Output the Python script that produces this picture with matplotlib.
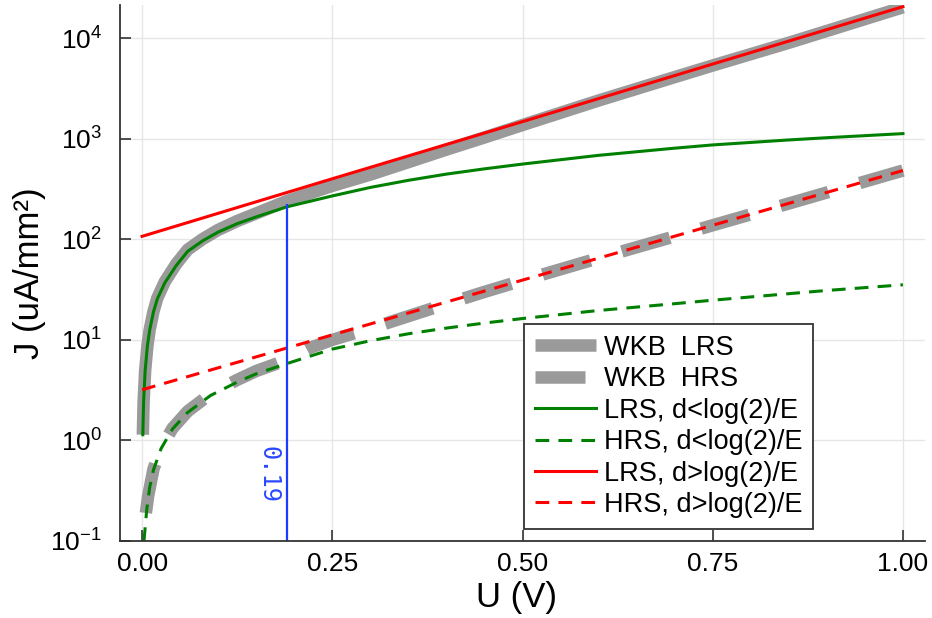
import numpy as np
import matplotlib
matplotlib.use("Agg")
from matplotlib import pyplot as plt
from matplotlib.ticker import FixedLocator, NullLocator, FormatStrFormatter

plt.rcParams["font.family"] = ["Liberation Sans", "DejaVu Sans"]
plt.rcParams["mathtext.fontset"] = "custom"
plt.rcParams["mathtext.rm"] = "Liberation Sans"

# values
u_wkb_lrs = [0.001, 0.002, 0.004, 0.007, 0.01, 0.015, 0.02, 0.03, 0.045, 0.06, 0.08, 0.1,
             0.125, 0.15, 0.19, 0.25, 0.3, 0.35, 0.4, 0.45, 0.5, 0.6, 0.7, 0.75, 0.85, 0.9, 1.0]
j_wkb_lrs = [1.14, 2.4, 4.9, 8.7, 12.6, 19.2, 26, 38, 57, 79, 101, 124,
             152, 181, 240, 340, 440, 585, 780, 1030, 1370, 2400, 4100, 5350, 9000, 11800, 20300]

u_wkb_hrs = [0.005, 0.008, 0.015, 0.025, 0.04, 0.06, 0.09, 0.125, 0.15, 0.19, 0.22, 0.25,
             0.3, 0.35, 0.4, 0.45, 0.5, 0.6, 0.7, 0.75, 0.85, 0.9, 1.0]
j_wkb_hrs = [0.19, 0.28, 0.52, 0.84, 1.32, 1.95, 2.9, 4.0, 4.9, 6.3, 8.3, 10.0,
             13.0, 17.2, 22.8, 30, 39, 65, 107, 138, 227, 292, 483]

u_lrs_small = [0.001, 0.002, 0.004, 0.007, 0.01, 0.015, 0.02, 0.03, 0.045, 0.06, 0.08, 0.1,
               0.125, 0.15, 0.19, 0.25, 0.3, 0.35, 0.4, 0.45, 0.5, 0.6, 0.7, 0.75, 0.85, 0.9, 1.0]
j_lrs_small = [1.14, 2.4, 4.9, 8.7, 12.5, 19, 25.5, 37, 55, 76, 97, 118,
               143, 167, 210, 270, 328, 386, 445, 502, 560, 684, 806, 868, 973, 1024, 1125]

u_hrs_small = [0.0025, 0.006, 0.01, 0.015, 0.025, 0.04, 0.06, 0.09, 0.125, 0.15, 0.19, 0.25,
               0.3, 0.35, 0.4, 0.45, 0.5, 0.6, 0.7, 0.75, 0.85, 0.9, 1.0]
j_hrs_small = [0.1, 0.2, 0.34, 0.51, 0.83, 1.3, 1.9, 2.8, 3.8, 4.6, 5.8, 8.1,
               9.8, 11.5, 13.1, 14.7, 16.3, 19.6, 22.9, 24.8, 28.8, 31, 35.3]

u_lrs_large = [0.0, 0.25, 0.5, 0.75, 1.0]
j_lrs_large = [107, 400, 1480, 5530, 20600]

u_hrs_large = [0.0, 0.25, 0.5, 0.75, 1.0]
j_hrs_large = [3.19, 11.2, 39.3, 138, 483]

u_mark = 0.19
j_mark_top = 225
mark_label = "0.19"

x_ticks = [0.0, 0.25, 0.5, 0.75, 1.0]
y_ticks = [1e-1, 1e0, 1e1, 1e2, 1e3, 1e4]

fig = plt.figure(figsize=(9.32, 6.18), dpi=100)
ax = fig.add_axes([120 / 932, 77 / 618, 805 / 932, 536 / 618])

gray = "#9a9a9a"
ax.plot(u_wkb_lrs, j_wkb_lrs, color=gray, lw=9, solid_capstyle="butt", label="WKB  LRS")
ax.plot(u_wkb_hrs, j_wkb_hrs, color=gray, lw=9, dashes=(4.0, 2.6), dash_capstyle="butt",
        label="WKB  HRS")
ax.plot(u_lrs_small, j_lrs_small, color="#008000", lw=2.2, label="LRS, d<log(2)/E")
ax.plot(u_hrs_small, j_hrs_small, color="#008000", lw=2.2, dashes=(4.5, 3.0),
        label="HRS, d<log(2)/E")
ax.plot(u_lrs_large, j_lrs_large, color="red", lw=2.2, label="LRS, d>log(2)/E")
ax.plot(u_hrs_large, j_hrs_large, color="red", lw=2.2, dashes=(4.5, 3.0),
        label="HRS, d>log(2)/E")

ax.vlines(u_mark, 0.1, j_mark_top, color="#1a3cff", lw=1.6)
ax.text(u_mark - 0.024, 0.456, mark_label, color="#2a48ff", rotation=-90,
        ha="center", va="center", fontsize=17, family="DejaVu Sans Mono")

ax.set_yscale("log")
ax.set_xlim(-0.029, 1.029)
ax.set_ylim(0.1, 10 ** 4.33)
ax.xaxis.set_major_locator(FixedLocator(x_ticks))
ax.xaxis.set_major_formatter(FormatStrFormatter("%.2f"))
ax.yaxis.set_major_locator(FixedLocator(y_ticks))
ax.yaxis.set_minor_locator(NullLocator())

ax.grid(True, color="#e6e6e6", lw=1)
ax.set_axisbelow(True)
for side in ["top", "right"]:
    ax.spines[side].set_visible(False)
for side in ["left", "bottom"]:
    ax.spines[side].set_color("#333333")
    ax.spines[side].set_linewidth(1.3)
ax.tick_params(axis="both", direction="in", length=8, width=1.2, color="#333333",
               labelsize=19)
ax.tick_params(axis="x", pad=8)
ax.tick_params(axis="y", pad=13)

ax.set_xlabel("U (V)", fontsize=25)
ax.set_ylabel("J (uA/mm²)", fontsize=25)
ax.xaxis.set_label_coords(0.493, -0.106)
ax.xaxis.label.set_va("center")
ax.yaxis.set_label_coords(-0.112, 0.5)
ax.yaxis.label.set_va("center")

leg = ax.legend(loc="upper left", bbox_to_anchor=(404 / 805, 217 / 536), fontsize=19.5,
                handlelength=2.25, handletextpad=0.3, borderpad=0.4, labelspacing=0.2,
                fancybox=False, framealpha=1, borderaxespad=0)
leg.get_frame().set_edgecolor("#333333")
leg.get_frame().set_linewidth(1.3)

fig.savefig("out.png", dpi=100)
